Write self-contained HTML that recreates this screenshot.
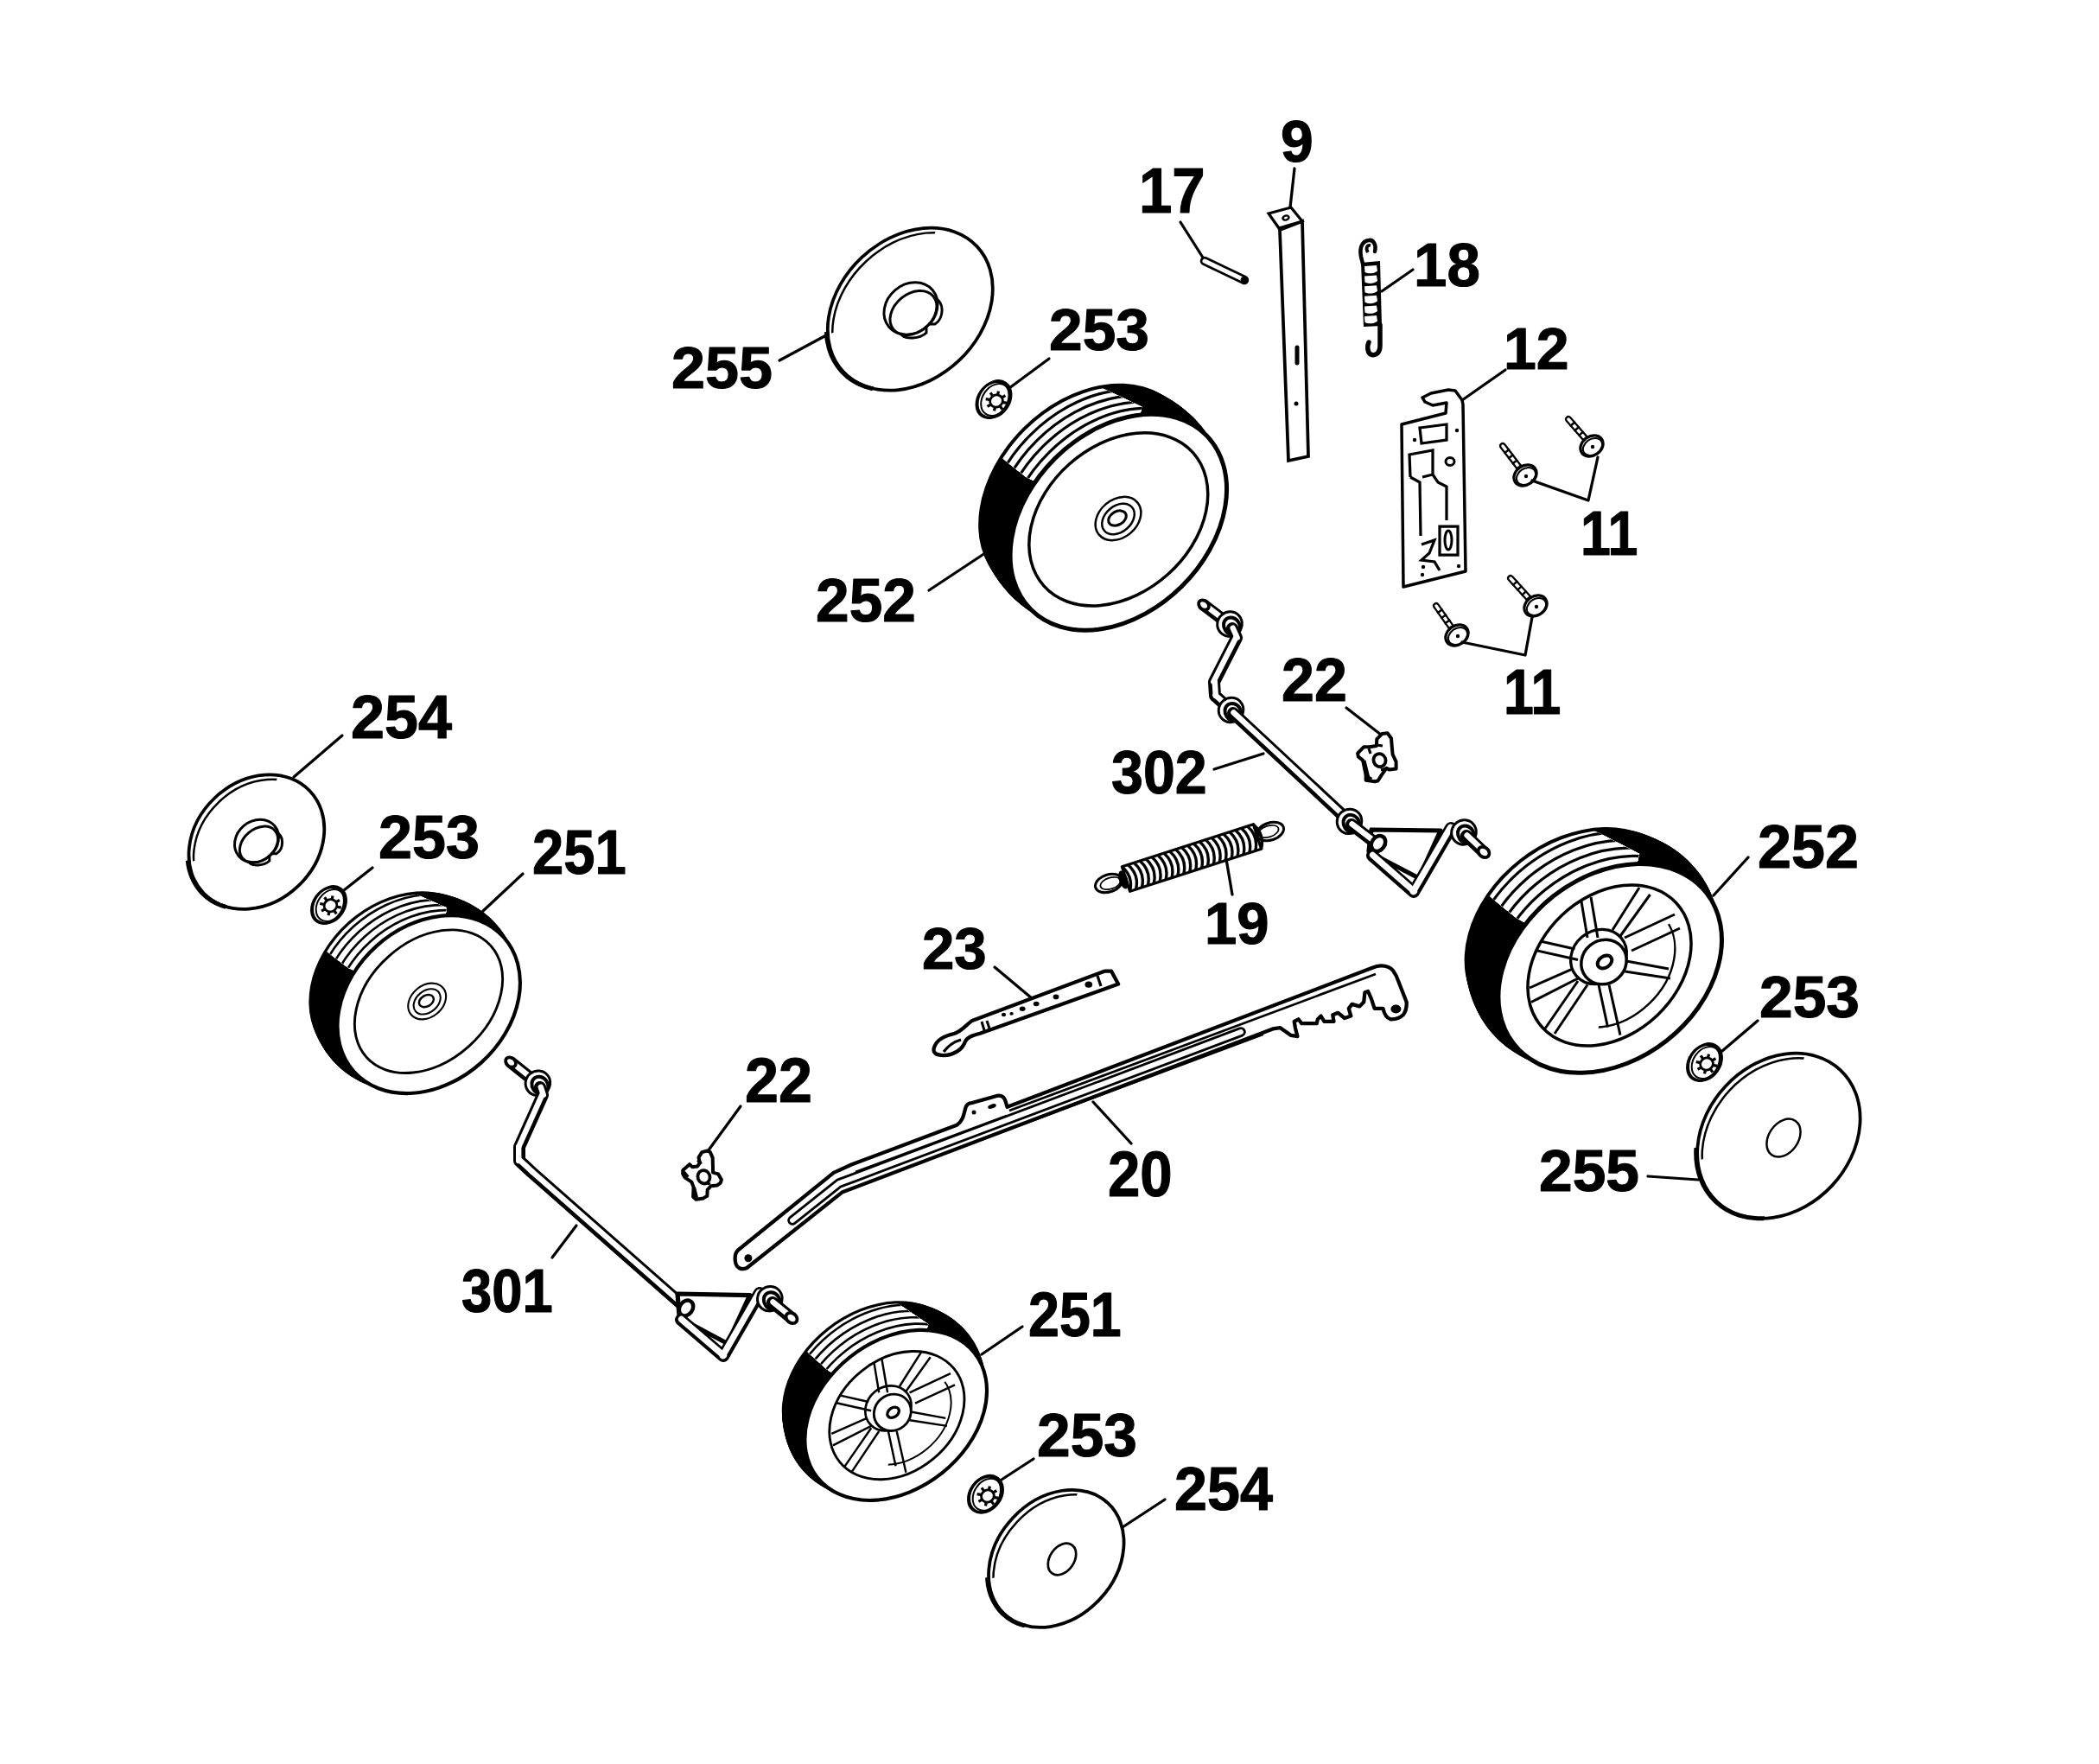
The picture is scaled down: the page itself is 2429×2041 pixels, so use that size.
<!DOCTYPE html><html><head><meta charset="utf-8"><style>html,body{margin:0;padding:0;background:#fff;overflow:hidden}svg{display:block}</style></head><body><svg width="2429" height="2041" viewBox="0 0 2429 2041"><rect width="100%" height="100%" fill="#fff"/><g>
<ellipse cx="1294.3" cy="604.3" rx="143.0" ry="104.2" transform="rotate(-44.8 1294.3 604.3)" fill="#000"/>
<ellipse cx="1292.0" cy="602.1" rx="143.9" ry="104.9" transform="rotate(-44.8 1292.0 602.1)" fill="#000"/>
<ellipse cx="1289.7" cy="599.8" rx="144.8" ry="105.5" transform="rotate(-44.8 1289.7 599.8)" fill="#000"/>
<ellipse cx="1287.4" cy="597.6" rx="145.5" ry="106.1" transform="rotate(-44.8 1287.4 597.6)" fill="#000"/>
<ellipse cx="1285.1" cy="595.4" rx="146.2" ry="106.6" transform="rotate(-44.8 1285.1 595.4)" fill="#000"/>
<ellipse cx="1282.8" cy="593.2" rx="146.8" ry="107.0" transform="rotate(-44.8 1282.8 593.2)" fill="#000"/>
<ellipse cx="1280.5" cy="590.9" rx="147.2" ry="107.3" transform="rotate(-44.8 1280.5 590.9)" fill="#000"/>
<ellipse cx="1278.2" cy="588.7" rx="147.5" ry="107.5" transform="rotate(-44.8 1278.2 588.7)" fill="#000"/>
<ellipse cx="1275.8" cy="586.5" rx="147.6" ry="107.5" transform="rotate(-44.8 1275.8 586.5)" fill="#000"/>
<ellipse cx="1273.5" cy="584.3" rx="147.5" ry="107.5" transform="rotate(-44.8 1273.5 584.3)" fill="#000"/>
<ellipse cx="1271.2" cy="582.0" rx="147.2" ry="107.3" transform="rotate(-44.8 1271.2 582.0)" fill="#000"/>
<ellipse cx="1268.9" cy="579.8" rx="146.8" ry="107.0" transform="rotate(-44.8 1268.9 579.8)" fill="#000"/>
<ellipse cx="1266.6" cy="577.6" rx="146.2" ry="106.6" transform="rotate(-44.8 1266.6 577.6)" fill="#000"/>
<ellipse cx="1264.3" cy="575.4" rx="145.5" ry="106.1" transform="rotate(-44.8 1264.3 575.4)" fill="#000"/>
<ellipse cx="1262.0" cy="573.1" rx="144.8" ry="105.5" transform="rotate(-44.8 1262.0 573.1)" fill="#000"/>
<ellipse cx="1259.7" cy="570.9" rx="143.9" ry="104.9" transform="rotate(-44.8 1259.7 570.9)" fill="#000"/>
<ellipse cx="1257.4" cy="568.7" rx="143.0" ry="104.2" transform="rotate(-44.8 1257.4 568.7)" fill="#000"/>
<clipPath id="gc1"><polygon points="1294.3,604.3 1187.6,552.0 1098.0,482.0 1072.9,390.7 1170.0,398.0 1321.2,470.8"/></clipPath>
<g clip-path="url(#gc1)">
<ellipse cx="1294.3" cy="604.3" rx="139.0" ry="100.2" transform="rotate(-44.8 1294.3 604.3)" fill="#fff"/>
<ellipse cx="1292.0" cy="602.1" rx="139.9" ry="100.9" transform="rotate(-44.8 1292.0 602.1)" fill="#fff"/>
<ellipse cx="1289.7" cy="599.8" rx="140.8" ry="101.5" transform="rotate(-44.8 1289.7 599.8)" fill="#fff"/>
<ellipse cx="1287.4" cy="597.6" rx="141.5" ry="102.1" transform="rotate(-44.8 1287.4 597.6)" fill="#fff"/>
<ellipse cx="1285.1" cy="595.4" rx="142.2" ry="102.6" transform="rotate(-44.8 1285.1 595.4)" fill="#fff"/>
<ellipse cx="1282.8" cy="593.2" rx="142.8" ry="103.0" transform="rotate(-44.8 1282.8 593.2)" fill="#fff"/>
<ellipse cx="1280.5" cy="590.9" rx="143.2" ry="103.3" transform="rotate(-44.8 1280.5 590.9)" fill="#fff"/>
<ellipse cx="1278.2" cy="588.7" rx="143.5" ry="103.5" transform="rotate(-44.8 1278.2 588.7)" fill="#fff"/>
<ellipse cx="1275.8" cy="586.5" rx="143.6" ry="103.5" transform="rotate(-44.8 1275.8 586.5)" fill="#fff"/>
<ellipse cx="1273.5" cy="584.3" rx="143.5" ry="103.5" transform="rotate(-44.8 1273.5 584.3)" fill="#fff"/>
<ellipse cx="1271.2" cy="582.0" rx="143.2" ry="103.3" transform="rotate(-44.8 1271.2 582.0)" fill="#fff"/>
<ellipse cx="1268.9" cy="579.8" rx="142.8" ry="103.0" transform="rotate(-44.8 1268.9 579.8)" fill="#fff"/>
<ellipse cx="1266.6" cy="577.6" rx="142.2" ry="102.6" transform="rotate(-44.8 1266.6 577.6)" fill="#fff"/>
<ellipse cx="1264.3" cy="575.4" rx="141.5" ry="102.1" transform="rotate(-44.8 1264.3 575.4)" fill="#fff"/>
<ellipse cx="1262.0" cy="573.1" rx="140.8" ry="101.5" transform="rotate(-44.8 1262.0 573.1)" fill="#fff"/>
<ellipse cx="1259.7" cy="570.9" rx="139.9" ry="100.9" transform="rotate(-44.8 1259.7 570.9)" fill="#fff"/>
<ellipse cx="1257.4" cy="568.7" rx="139.0" ry="100.2" transform="rotate(-44.8 1257.4 568.7)" fill="#fff"/>
<ellipse cx="1287.7" cy="597.9" rx="143.8" ry="104.8" transform="rotate(-44.8 1287.7 597.9)" fill="none" stroke-width="3.20" stroke="#000"/>
<ellipse cx="1281.0" cy="591.5" rx="144.6" ry="105.4" transform="rotate(-44.8 1281.0 591.5)" fill="none" stroke-width="3.20" stroke="#000"/>
<ellipse cx="1274.4" cy="585.1" rx="145.5" ry="106.0" transform="rotate(-44.8 1274.4 585.1)" fill="none" stroke-width="3.20" stroke="#000"/>
<ellipse cx="1267.7" cy="578.7" rx="146.3" ry="106.6" transform="rotate(-44.8 1267.7 578.7)" fill="none" stroke-width="3.20" stroke="#000"/>
</g>
<ellipse cx="1294.3" cy="604.3" rx="143.0" ry="104.2" transform="rotate(-44.8 1294.3 604.3)" fill="#fff" stroke="#000" stroke-width="5.00"/>
<ellipse cx="1294.3" cy="600.9" rx="115.7" ry="85.6" transform="rotate(-41.7 1294.3 600.9)" fill="none" stroke="#000" stroke-width="3.50"/>
<ellipse cx="1294.0" cy="600.0" rx="29.0" ry="22.0" transform="rotate(-40.0 1294.0 600.0)" fill="none" stroke="#000" stroke-width="2.50"/>
<ellipse cx="1294.0" cy="600.5" rx="21.0" ry="15.0" transform="rotate(-40.0 1294.0 600.5)" fill="none" stroke="#000" stroke-width="2.50"/>
<ellipse cx="1293.0" cy="599.5" rx="11.0" ry="7.7" transform="rotate(-30.0 1293.0 599.5)" fill="none" stroke="#000" stroke-width="3.00"/>
</g>
<g>
<ellipse cx="496.2" cy="1162.1" rx="116.4" ry="90.7" transform="rotate(-41.9 496.2 1162.1)" fill="#000"/>
<ellipse cx="494.1" cy="1160.4" rx="117.7" ry="91.7" transform="rotate(-41.9 494.1 1160.4)" fill="#000"/>
<ellipse cx="492.1" cy="1158.6" rx="118.9" ry="92.6" transform="rotate(-41.9 492.1 1158.6)" fill="#000"/>
<ellipse cx="490.0" cy="1156.9" rx="120.0" ry="93.5" transform="rotate(-41.9 490.0 1156.9)" fill="#000"/>
<ellipse cx="487.9" cy="1155.1" rx="121.0" ry="94.3" transform="rotate(-41.9 487.9 1155.1)" fill="#000"/>
<ellipse cx="485.9" cy="1153.4" rx="121.8" ry="94.9" transform="rotate(-41.9 485.9 1153.4)" fill="#000"/>
<ellipse cx="483.8" cy="1151.7" rx="122.4" ry="95.4" transform="rotate(-41.9 483.8 1151.7)" fill="#000"/>
<ellipse cx="481.7" cy="1149.9" rx="122.8" ry="95.7" transform="rotate(-41.9 481.7 1149.9)" fill="#000"/>
<ellipse cx="479.6" cy="1148.2" rx="122.9" ry="95.8" transform="rotate(-41.9 479.6 1148.2)" fill="#000"/>
<ellipse cx="477.6" cy="1146.5" rx="122.8" ry="95.7" transform="rotate(-41.9 477.6 1146.5)" fill="#000"/>
<ellipse cx="475.5" cy="1144.7" rx="122.4" ry="95.4" transform="rotate(-41.9 475.5 1144.7)" fill="#000"/>
<ellipse cx="473.4" cy="1143.0" rx="121.8" ry="94.9" transform="rotate(-41.9 473.4 1143.0)" fill="#000"/>
<ellipse cx="471.4" cy="1141.2" rx="121.0" ry="94.3" transform="rotate(-41.9 471.4 1141.2)" fill="#000"/>
<ellipse cx="469.3" cy="1139.5" rx="120.0" ry="93.5" transform="rotate(-41.9 469.3 1139.5)" fill="#000"/>
<ellipse cx="467.2" cy="1137.8" rx="118.9" ry="92.6" transform="rotate(-41.9 467.2 1137.8)" fill="#000"/>
<ellipse cx="465.2" cy="1136.0" rx="117.7" ry="91.7" transform="rotate(-41.9 465.2 1136.0)" fill="#000"/>
<ellipse cx="463.1" cy="1134.3" rx="116.4" ry="90.7" transform="rotate(-41.9 463.1 1134.3)" fill="#000"/>
<clipPath id="gc2"><polygon points="496.2,1162.1 403.4,1120.0 326.1,1062.0 297.6,995.3 390.4,994.7 517.0,1050.4"/></clipPath>
<g clip-path="url(#gc2)">
<ellipse cx="496.2" cy="1162.1" rx="113.1" ry="87.4" transform="rotate(-41.9 496.2 1162.1)" fill="#fff"/>
<ellipse cx="494.1" cy="1160.4" rx="114.4" ry="88.4" transform="rotate(-41.9 494.1 1160.4)" fill="#fff"/>
<ellipse cx="492.1" cy="1158.6" rx="115.6" ry="89.3" transform="rotate(-41.9 492.1 1158.6)" fill="#fff"/>
<ellipse cx="490.0" cy="1156.9" rx="116.7" ry="90.2" transform="rotate(-41.9 490.0 1156.9)" fill="#fff"/>
<ellipse cx="487.9" cy="1155.1" rx="117.7" ry="91.0" transform="rotate(-41.9 487.9 1155.1)" fill="#fff"/>
<ellipse cx="485.9" cy="1153.4" rx="118.5" ry="91.6" transform="rotate(-41.9 485.9 1153.4)" fill="#fff"/>
<ellipse cx="483.8" cy="1151.7" rx="119.1" ry="92.1" transform="rotate(-41.9 483.8 1151.7)" fill="#fff"/>
<ellipse cx="481.7" cy="1149.9" rx="119.5" ry="92.4" transform="rotate(-41.9 481.7 1149.9)" fill="#fff"/>
<ellipse cx="479.6" cy="1148.2" rx="119.6" ry="92.5" transform="rotate(-41.9 479.6 1148.2)" fill="#fff"/>
<ellipse cx="477.6" cy="1146.5" rx="119.5" ry="92.4" transform="rotate(-41.9 477.6 1146.5)" fill="#fff"/>
<ellipse cx="475.5" cy="1144.7" rx="119.1" ry="92.1" transform="rotate(-41.9 475.5 1144.7)" fill="#fff"/>
<ellipse cx="473.4" cy="1143.0" rx="118.5" ry="91.6" transform="rotate(-41.9 473.4 1143.0)" fill="#fff"/>
<ellipse cx="471.4" cy="1141.2" rx="117.7" ry="91.0" transform="rotate(-41.9 471.4 1141.2)" fill="#fff"/>
<ellipse cx="469.3" cy="1139.5" rx="116.7" ry="90.2" transform="rotate(-41.9 469.3 1139.5)" fill="#fff"/>
<ellipse cx="467.2" cy="1137.8" rx="115.6" ry="89.3" transform="rotate(-41.9 467.2 1137.8)" fill="#fff"/>
<ellipse cx="465.2" cy="1136.0" rx="114.4" ry="88.4" transform="rotate(-41.9 465.2 1136.0)" fill="#fff"/>
<ellipse cx="463.1" cy="1134.3" rx="113.1" ry="87.4" transform="rotate(-41.9 463.1 1134.3)" fill="#fff"/>
<ellipse cx="490.2" cy="1157.1" rx="117.6" ry="91.6" transform="rotate(-41.9 490.2 1157.1)" fill="none" stroke-width="2.66" stroke="#000"/>
<ellipse cx="484.3" cy="1152.1" rx="118.7" ry="92.5" transform="rotate(-41.9 484.3 1152.1)" fill="none" stroke-width="2.66" stroke="#000"/>
<ellipse cx="478.3" cy="1147.1" rx="119.9" ry="93.4" transform="rotate(-41.9 478.3 1147.1)" fill="none" stroke-width="2.66" stroke="#000"/>
<ellipse cx="472.4" cy="1142.1" rx="121.1" ry="94.4" transform="rotate(-41.9 472.4 1142.1)" fill="none" stroke-width="2.66" stroke="#000"/>
</g>
<ellipse cx="496.2" cy="1162.1" rx="116.4" ry="90.7" transform="rotate(-41.9 496.2 1162.1)" fill="#fff" stroke="#000" stroke-width="4.15"/>
<ellipse cx="496.0" cy="1158.7" rx="96.6" ry="69.7" transform="rotate(-41.9 496.0 1158.7)" fill="none" stroke="#000" stroke-width="2.90"/>
<ellipse cx="494.2" cy="1158.5" rx="24.1" ry="18.3" transform="rotate(-40.0 494.2 1158.5)" fill="none" stroke="#000" stroke-width="2.07"/>
<ellipse cx="494.2" cy="1158.9" rx="17.4" ry="12.4" transform="rotate(-40.0 494.2 1158.9)" fill="none" stroke="#000" stroke-width="2.07"/>
<ellipse cx="493.4" cy="1158.1" rx="9.1" ry="6.4" transform="rotate(-30.0 493.4 1158.1)" fill="none" stroke="#000" stroke-width="2.49"/>
</g>
<g>
<ellipse cx="1863.2" cy="1120.4" rx="141.6" ry="106.2" transform="rotate(-38.1 1863.2 1120.4)" fill="#000"/>
<ellipse cx="1860.7" cy="1117.8" rx="143.5" ry="107.7" transform="rotate(-38.1 1860.7 1117.8)" fill="#000"/>
<ellipse cx="1858.3" cy="1115.1" rx="145.4" ry="109.0" transform="rotate(-38.1 1858.3 1115.1)" fill="#000"/>
<ellipse cx="1855.8" cy="1112.5" rx="147.1" ry="110.3" transform="rotate(-38.1 1855.8 1112.5)" fill="#000"/>
<ellipse cx="1853.4" cy="1109.8" rx="148.6" ry="111.5" transform="rotate(-38.1 1853.4 1109.8)" fill="#000"/>
<ellipse cx="1850.9" cy="1107.2" rx="149.8" ry="112.4" transform="rotate(-38.1 1850.9 1107.2)" fill="#000"/>
<ellipse cx="1848.5" cy="1104.5" rx="150.8" ry="113.1" transform="rotate(-38.1 1848.5 1104.5)" fill="#000"/>
<ellipse cx="1846.0" cy="1101.9" rx="151.3" ry="113.5" transform="rotate(-38.1 1846.0 1101.9)" fill="#000"/>
<ellipse cx="1843.5" cy="1099.2" rx="151.5" ry="113.6" transform="rotate(-38.1 1843.5 1099.2)" fill="#000"/>
<ellipse cx="1841.1" cy="1096.6" rx="151.3" ry="113.5" transform="rotate(-38.1 1841.1 1096.6)" fill="#000"/>
<ellipse cx="1838.6" cy="1093.9" rx="150.8" ry="113.1" transform="rotate(-38.1 1838.6 1093.9)" fill="#000"/>
<ellipse cx="1836.2" cy="1091.2" rx="149.8" ry="112.4" transform="rotate(-38.1 1836.2 1091.2)" fill="#000"/>
<ellipse cx="1833.7" cy="1088.6" rx="148.6" ry="111.5" transform="rotate(-38.1 1833.7 1088.6)" fill="#000"/>
<ellipse cx="1831.3" cy="1086.0" rx="147.1" ry="110.3" transform="rotate(-38.1 1831.3 1086.0)" fill="#000"/>
<ellipse cx="1828.8" cy="1083.3" rx="145.4" ry="109.0" transform="rotate(-38.1 1828.8 1083.3)" fill="#000"/>
<ellipse cx="1826.4" cy="1080.7" rx="143.5" ry="107.7" transform="rotate(-38.1 1826.4 1080.7)" fill="#000"/>
<ellipse cx="1823.9" cy="1078.0" rx="141.6" ry="106.2" transform="rotate(-38.1 1823.9 1078.0)" fill="#000"/>
<clipPath id="gc3"><polygon points="1863.2,1120.4 1754.8,1062.0 1668.0,992.0 1627.4,866.0 1744.8,909.2 1897.1,987.9"/></clipPath>
<g clip-path="url(#gc3)">
<ellipse cx="1863.2" cy="1120.4" rx="137.6" ry="102.2" transform="rotate(-38.1 1863.2 1120.4)" fill="#fff"/>
<ellipse cx="1860.7" cy="1117.8" rx="139.5" ry="103.7" transform="rotate(-38.1 1860.7 1117.8)" fill="#fff"/>
<ellipse cx="1858.3" cy="1115.1" rx="141.4" ry="105.0" transform="rotate(-38.1 1858.3 1115.1)" fill="#fff"/>
<ellipse cx="1855.8" cy="1112.5" rx="143.1" ry="106.3" transform="rotate(-38.1 1855.8 1112.5)" fill="#fff"/>
<ellipse cx="1853.4" cy="1109.8" rx="144.6" ry="107.5" transform="rotate(-38.1 1853.4 1109.8)" fill="#fff"/>
<ellipse cx="1850.9" cy="1107.2" rx="145.8" ry="108.4" transform="rotate(-38.1 1850.9 1107.2)" fill="#fff"/>
<ellipse cx="1848.5" cy="1104.5" rx="146.8" ry="109.1" transform="rotate(-38.1 1848.5 1104.5)" fill="#fff"/>
<ellipse cx="1846.0" cy="1101.9" rx="147.3" ry="109.5" transform="rotate(-38.1 1846.0 1101.9)" fill="#fff"/>
<ellipse cx="1843.5" cy="1099.2" rx="147.5" ry="109.6" transform="rotate(-38.1 1843.5 1099.2)" fill="#fff"/>
<ellipse cx="1841.1" cy="1096.6" rx="147.3" ry="109.5" transform="rotate(-38.1 1841.1 1096.6)" fill="#fff"/>
<ellipse cx="1838.6" cy="1093.9" rx="146.8" ry="109.1" transform="rotate(-38.1 1838.6 1093.9)" fill="#fff"/>
<ellipse cx="1836.2" cy="1091.2" rx="145.8" ry="108.4" transform="rotate(-38.1 1836.2 1091.2)" fill="#fff"/>
<ellipse cx="1833.7" cy="1088.6" rx="144.6" ry="107.5" transform="rotate(-38.1 1833.7 1088.6)" fill="#fff"/>
<ellipse cx="1831.3" cy="1086.0" rx="143.1" ry="106.3" transform="rotate(-38.1 1831.3 1086.0)" fill="#fff"/>
<ellipse cx="1828.8" cy="1083.3" rx="141.4" ry="105.0" transform="rotate(-38.1 1828.8 1083.3)" fill="#fff"/>
<ellipse cx="1826.4" cy="1080.7" rx="139.5" ry="103.7" transform="rotate(-38.1 1826.4 1080.7)" fill="#fff"/>
<ellipse cx="1823.9" cy="1078.0" rx="137.6" ry="102.2" transform="rotate(-38.1 1823.9 1078.0)" fill="#fff"/>
<ellipse cx="1856.1" cy="1112.8" rx="143.4" ry="107.5" transform="rotate(-38.1 1856.1 1112.8)" fill="none" stroke-width="3.20" stroke="#000"/>
<ellipse cx="1849.1" cy="1105.1" rx="145.2" ry="108.9" transform="rotate(-38.1 1849.1 1105.1)" fill="none" stroke-width="3.20" stroke="#000"/>
<ellipse cx="1842.0" cy="1097.5" rx="147.0" ry="110.2" transform="rotate(-38.1 1842.0 1097.5)" fill="none" stroke-width="3.20" stroke="#000"/>
<ellipse cx="1834.9" cy="1089.9" rx="148.7" ry="111.6" transform="rotate(-38.1 1834.9 1089.9)" fill="none" stroke-width="3.20" stroke="#000"/>
</g>
<ellipse cx="1863.2" cy="1120.4" rx="141.6" ry="106.2" transform="rotate(-38.1 1863.2 1120.4)" fill="#fff" stroke="#000" stroke-width="5.00"/>
<ellipse cx="1862.5" cy="1117.0" rx="105.8" ry="80.0" transform="rotate(-43.3 1862.5 1117.0)" fill="none" stroke="#000" stroke-width="3.50"/>
<clipPath id="dish3"><polygon points="1862.5,1117.0 2190.2,887.6 2228.6,955.9 2253.0,1030.4 2262.4,1108.3 2256.4,1186.5 2235.3,1262.0 2199.9,1331.9 2151.4,1393.6 2091.9,1444.7 2023.6,1483.1 1949.1,1507.5 1871.2,1516.9 1793.0,1510.9"/></clipPath>
<g clip-path="url(#dish3)"><ellipse cx="1865.5" cy="1117.0" rx="81.5" ry="61.6" transform="rotate(-43.3 1865.5 1117.0)" fill="none" stroke-width="2.40" stroke="#000"/></g>
<path d="M1830.0,1043.0L1837.0,1085.0M1841.0,1038.0L1849.0,1085.0M1897.0,1027.0L1866.0,1076.0M1909.5,1035.0L1875.0,1083.0M1938.0,1058.0L1880.0,1085.0M1944.0,1074.0L1888.0,1100.0M1882.0,1112.0L1931.0,1121.0M1880.5,1124.0L1933.0,1132.0M1850.0,1139.5L1860.5,1188.5M1862.0,1139.5L1875.0,1197.6M1826.0,1135.0L1788.0,1190.0M1837.0,1139.5L1799.0,1196.0M1819.0,1121.4L1770.0,1143.0M1826.0,1132.0L1772.0,1159.5M1822.4,1098.0L1782.5,1089.0M1826.0,1110.5L1777.0,1099.6" fill="none" stroke-width="3.00" stroke="#000"/>
<ellipse cx="1850.0" cy="1107.0" rx="34.0" ry="30.0" transform="rotate(-40.0 1850.0 1107.0)" fill="none" stroke="#000" stroke-width="3.25"/>
<ellipse cx="1856.0" cy="1113.0" rx="27.0" ry="25.0" transform="rotate(-40.0 1856.0 1113.0)" fill="#fff" stroke="#000" stroke-width="3.50"/>
<ellipse cx="1857.0" cy="1113.0" rx="9.0" ry="6.5" transform="rotate(-35.0 1857.0 1113.0)" fill="none" stroke="#000" stroke-width="4.00"/>
</g>
<g>
<ellipse cx="1036.7" cy="1637.4" rx="116.0" ry="85.7" transform="rotate(-38.5 1036.7 1637.4)" fill="#000"/>
<ellipse cx="1035.0" cy="1635.3" rx="117.6" ry="86.9" transform="rotate(-38.5 1035.0 1635.3)" fill="#000"/>
<ellipse cx="1033.4" cy="1633.2" rx="119.2" ry="88.0" transform="rotate(-38.5 1033.4 1633.2)" fill="#000"/>
<ellipse cx="1031.7" cy="1631.1" rx="120.6" ry="89.1" transform="rotate(-38.5 1031.7 1631.1)" fill="#000"/>
<ellipse cx="1030.0" cy="1629.0" rx="121.8" ry="90.0" transform="rotate(-38.5 1030.0 1629.0)" fill="#000"/>
<ellipse cx="1028.4" cy="1626.9" rx="122.8" ry="90.8" transform="rotate(-38.5 1028.4 1626.9)" fill="#000"/>
<ellipse cx="1026.7" cy="1624.8" rx="123.6" ry="91.3" transform="rotate(-38.5 1026.7 1624.8)" fill="#000"/>
<ellipse cx="1025.1" cy="1622.7" rx="124.1" ry="91.7" transform="rotate(-38.5 1025.1 1622.7)" fill="#000"/>
<ellipse cx="1023.4" cy="1620.6" rx="124.2" ry="91.8" transform="rotate(-38.5 1023.4 1620.6)" fill="#000"/>
<ellipse cx="1021.7" cy="1618.5" rx="124.1" ry="91.7" transform="rotate(-38.5 1021.7 1618.5)" fill="#000"/>
<ellipse cx="1020.1" cy="1616.4" rx="123.6" ry="91.3" transform="rotate(-38.5 1020.1 1616.4)" fill="#000"/>
<ellipse cx="1018.4" cy="1614.3" rx="122.8" ry="90.8" transform="rotate(-38.5 1018.4 1614.3)" fill="#000"/>
<ellipse cx="1016.8" cy="1612.2" rx="121.8" ry="90.0" transform="rotate(-38.5 1016.8 1612.2)" fill="#000"/>
<ellipse cx="1015.1" cy="1610.1" rx="120.6" ry="89.1" transform="rotate(-38.5 1015.1 1610.1)" fill="#000"/>
<ellipse cx="1013.4" cy="1608.0" rx="119.2" ry="88.0" transform="rotate(-38.5 1013.4 1608.0)" fill="#000"/>
<ellipse cx="1011.8" cy="1605.9" rx="117.6" ry="86.9" transform="rotate(-38.5 1011.8 1605.9)" fill="#000"/>
<ellipse cx="1010.1" cy="1603.8" rx="116.0" ry="85.7" transform="rotate(-38.5 1010.1 1603.8)" fill="#000"/>
<clipPath id="gc4"><polygon points="1036.7,1637.4 957.8,1584.9 887.5,1523.0 877.1,1435.8 962.8,1456.1 1074.2,1532.3"/></clipPath>
<g clip-path="url(#gc4)">
<ellipse cx="1036.7" cy="1637.4" rx="112.7" ry="82.4" transform="rotate(-38.5 1036.7 1637.4)" fill="#fff"/>
<ellipse cx="1035.0" cy="1635.3" rx="114.3" ry="83.6" transform="rotate(-38.5 1035.0 1635.3)" fill="#fff"/>
<ellipse cx="1033.4" cy="1633.2" rx="115.9" ry="84.7" transform="rotate(-38.5 1033.4 1633.2)" fill="#fff"/>
<ellipse cx="1031.7" cy="1631.1" rx="117.3" ry="85.8" transform="rotate(-38.5 1031.7 1631.1)" fill="#fff"/>
<ellipse cx="1030.0" cy="1629.0" rx="118.5" ry="86.7" transform="rotate(-38.5 1030.0 1629.0)" fill="#fff"/>
<ellipse cx="1028.4" cy="1626.9" rx="119.6" ry="87.5" transform="rotate(-38.5 1028.4 1626.9)" fill="#fff"/>
<ellipse cx="1026.7" cy="1624.8" rx="120.3" ry="88.0" transform="rotate(-38.5 1026.7 1624.8)" fill="#fff"/>
<ellipse cx="1025.1" cy="1622.7" rx="120.8" ry="88.4" transform="rotate(-38.5 1025.1 1622.7)" fill="#fff"/>
<ellipse cx="1023.4" cy="1620.6" rx="121.0" ry="88.5" transform="rotate(-38.5 1023.4 1620.6)" fill="#fff"/>
<ellipse cx="1021.7" cy="1618.5" rx="120.8" ry="88.4" transform="rotate(-38.5 1021.7 1618.5)" fill="#fff"/>
<ellipse cx="1020.1" cy="1616.4" rx="120.3" ry="88.0" transform="rotate(-38.5 1020.1 1616.4)" fill="#fff"/>
<ellipse cx="1018.4" cy="1614.3" rx="119.6" ry="87.5" transform="rotate(-38.5 1018.4 1614.3)" fill="#fff"/>
<ellipse cx="1016.8" cy="1612.2" rx="118.5" ry="86.7" transform="rotate(-38.5 1016.8 1612.2)" fill="#fff"/>
<ellipse cx="1015.1" cy="1610.1" rx="117.3" ry="85.8" transform="rotate(-38.5 1015.1 1610.1)" fill="#fff"/>
<ellipse cx="1013.4" cy="1608.0" rx="115.9" ry="84.7" transform="rotate(-38.5 1013.4 1608.0)" fill="#fff"/>
<ellipse cx="1011.8" cy="1605.9" rx="114.3" ry="83.6" transform="rotate(-38.5 1011.8 1605.9)" fill="#fff"/>
<ellipse cx="1010.1" cy="1603.8" rx="112.7" ry="82.4" transform="rotate(-38.5 1010.1 1603.8)" fill="#fff"/>
<ellipse cx="1031.9" cy="1631.4" rx="117.5" ry="86.8" transform="rotate(-38.5 1031.9 1631.4)" fill="none" stroke-width="2.62" stroke="#000"/>
<ellipse cx="1027.1" cy="1625.3" rx="119.0" ry="87.9" transform="rotate(-38.5 1027.1 1625.3)" fill="none" stroke-width="2.62" stroke="#000"/>
<ellipse cx="1022.3" cy="1619.3" rx="120.4" ry="89.0" transform="rotate(-38.5 1022.3 1619.3)" fill="none" stroke-width="2.62" stroke="#000"/>
<ellipse cx="1017.5" cy="1613.2" rx="121.9" ry="90.1" transform="rotate(-38.5 1017.5 1613.2)" fill="none" stroke-width="2.62" stroke="#000"/>
</g>
<ellipse cx="1036.7" cy="1637.4" rx="116.0" ry="85.7" transform="rotate(-38.5 1036.7 1637.4)" fill="#fff" stroke="#000" stroke-width="4.10"/>
<ellipse cx="1037.9" cy="1637.6" rx="85.4" ry="65.6" transform="rotate(-39.2 1037.9 1637.6)" fill="none" stroke="#000" stroke-width="2.88"/>
<clipPath id="dish4"><polygon points="1037.9,1637.6 1365.6,1408.2 1404.0,1476.5 1428.4,1551.0 1437.8,1628.9 1431.8,1707.1 1410.7,1782.6 1375.3,1852.5 1326.8,1914.2 1267.3,1965.3 1199.0,2003.7 1124.5,2028.1 1046.6,2037.5 968.4,2031.5"/></clipPath>
<g clip-path="url(#dish4)"><ellipse cx="1040.4" cy="1637.6" rx="65.8" ry="50.5" transform="rotate(-39.2 1040.4 1637.6)" fill="none" stroke-width="1.97" stroke="#000"/></g>
<path d="M1011.5,1576.9L1017.2,1611.3M1020.5,1572.8L1027.1,1611.3M1066.4,1563.8L1041.0,1604.0M1076.7,1570.3L1048.4,1609.7M1100.0,1589.2L1052.5,1611.3M1105.0,1602.3L1059.0,1623.6M1054.1,1633.5L1094.3,1640.9M1052.9,1643.3L1095.9,1649.9M1027.9,1656.0L1036.5,1696.2M1037.7,1656.0L1048.4,1703.7M1008.2,1652.3L977.0,1697.4M1017.2,1656.0L986.1,1702.4M1002.5,1641.2L962.3,1658.9M1008.2,1649.9L963.9,1672.4M1005.2,1622.0L972.5,1614.6M1008.2,1632.2L968.0,1623.3" fill="none" stroke-width="2.46" stroke="#000"/>
<ellipse cx="1027.9" cy="1629.4" rx="27.9" ry="24.6" transform="rotate(-40.0 1027.9 1629.4)" fill="none" stroke="#000" stroke-width="2.66"/>
<ellipse cx="1032.8" cy="1634.3" rx="22.1" ry="20.5" transform="rotate(-40.0 1032.8 1634.3)" fill="#fff" stroke="#000" stroke-width="2.88"/>
<ellipse cx="1033.6" cy="1634.3" rx="7.4" ry="5.3" transform="rotate(-35.0 1033.6 1634.3)" fill="none" stroke="#000" stroke-width="3.28"/>
</g>
<g>
<ellipse cx="1053.3" cy="357.7" rx="106.0" ry="82.0" transform="rotate(-43.2 1053.3 357.7)" fill="#fff" stroke="#000" stroke-width="3.75"/>
<clipPath id="dc1"><polygon points="1053.3,357.7 884.3,720.2 858.4,707.0 833.5,691.9 809.8,675.0 787.4,656.5 766.4,636.4 746.9,614.8 729.0,591.9 712.9,567.7 698.5,542.4 686.0,516.1 675.5,489.0 666.9,461.2"/></clipPath>
<g clip-path="url(#dc1)"><ellipse cx="1051.8" cy="357.7" rx="106.0" ry="82.0" transform="rotate(-43.2 1051.8 357.7)" fill="none" stroke="#000" stroke-width="5.00"/></g>
<clipPath id="dd1"><polygon points="1053.3,357.7 670.8,474.6 655.9,403.6 654.2,331.0 665.6,259.2 689.8,190.8 726.0,127.8 772.9,72.4 829.1,26.4 892.7,-8.7 961.6,-31.7 1033.5,-41.8 1106.1,-38.8 1176.9,-22.7"/></clipPath>
<g clip-path="url(#dd1)"><ellipse cx="1056.3" cy="360.7" rx="103.5" ry="79.5" transform="rotate(-43.2 1056.3 360.7)" fill="none" stroke="#000" stroke-width="2.50"/></g>
<ellipse cx="1054.0" cy="357.0" rx="33.0" ry="28.0" transform="rotate(-40.0 1054.0 357.0)" fill="none" stroke="#000" stroke-width="3.00"/>
<ellipse cx="1057.0" cy="362.0" rx="30.0" ry="22.0" transform="rotate(-40.0 1057.0 362.0)" fill="none" stroke="#000" stroke-width="3.00"/>
<path d="M1081.0,345.0 C1094.0,349.0 1092.0,369.0 1082.0,375.0 L1074.0,375.0" fill="none" stroke="#000" stroke-width="3.00"/>
<path d="M1042.0,385.0 C1046.0,395.0 1066.0,391.0 1072.0,385.0 L1072.0,377.0" fill="none" stroke="#000" stroke-width="3.00"/>
</g>
<g>
<ellipse cx="296.9" cy="974.1" rx="85.3" ry="70.2" transform="rotate(-43.9 296.9 974.1)" fill="#fff" stroke="#000" stroke-width="3.75"/>
<clipPath id="dc2"><polygon points="296.9,974.1 127.9,1336.6 102.0,1323.4 77.1,1308.3 53.4,1291.4 31.0,1272.9 10.0,1252.8 -9.5,1231.2 -27.4,1208.3 -43.5,1184.1 -57.9,1158.8 -70.4,1132.5 -80.9,1105.4 -89.5,1077.6"/></clipPath>
<g clip-path="url(#dc2)"><ellipse cx="295.4" cy="974.1" rx="85.3" ry="70.2" transform="rotate(-43.9 295.4 974.1)" fill="none" stroke="#000" stroke-width="5.00"/></g>
<clipPath id="dd2"><polygon points="296.9,974.1 -85.6,1091.0 -100.5,1020.0 -102.2,947.4 -90.8,875.6 -66.6,807.2 -30.4,744.2 16.5,688.8 72.7,642.8 136.3,607.7 205.2,584.7 277.1,574.6 349.7,577.6 420.5,593.7"/></clipPath>
<g clip-path="url(#dd2)"><ellipse cx="299.9" cy="977.1" rx="82.8" ry="67.7" transform="rotate(-43.9 299.9 977.1)" fill="none" stroke="#000" stroke-width="2.50"/></g>
<ellipse cx="297.0" cy="973.0" rx="27.1" ry="23.0" transform="rotate(-40.0 297.0 973.0)" fill="none" stroke="#000" stroke-width="3.00"/>
<ellipse cx="299.5" cy="977.1" rx="24.6" ry="18.0" transform="rotate(-40.0 299.5 977.1)" fill="none" stroke="#000" stroke-width="3.00"/>
<path d="M319.1,963.2 C329.8,966.4 328.2,982.8 320.0,987.8 L313.4,987.8" fill="none" stroke="#000" stroke-width="3.00"/>
<path d="M287.2,996.0 C290.4,1004.2 306.8,1000.9 311.8,996.0 L311.8,989.4" fill="none" stroke="#000" stroke-width="3.00"/>
</g>
<g>
<ellipse cx="2058.4" cy="1314.3" rx="104.4" ry="84.3" transform="rotate(-46.9 2058.4 1314.3)" fill="#fff" stroke="#000" stroke-width="3.75"/>
<clipPath id="dc3"><polygon points="2058.4,1314.3 1988.9,1708.2 1948.1,1698.8 1908.6,1685.2 1870.6,1667.5 1834.7,1645.9 1801.3,1620.7 1770.7,1592.2 1743.2,1560.6 1719.2,1526.3 1698.9,1489.6 1682.5,1451.1 1670.3,1411.1 1662.3,1370.0"/></clipPath>
<g clip-path="url(#dc3)"><ellipse cx="2056.9" cy="1314.3" rx="104.4" ry="84.3" transform="rotate(-46.9 2056.9 1314.3)" fill="none" stroke="#000" stroke-width="5.00"/></g>
<clipPath id="dd3"><polygon points="2058.4,1314.3 1675.9,1431.2 1661.0,1360.2 1659.3,1287.6 1670.7,1215.8 1694.9,1147.4 1731.1,1084.4 1778.0,1029.0 1834.2,983.0 1897.8,947.9 1966.7,924.9 2038.6,914.8 2111.2,917.8 2182.0,933.9"/></clipPath>
<g clip-path="url(#dd3)"><ellipse cx="2061.4" cy="1317.3" rx="101.9" ry="81.8" transform="rotate(-46.9 2061.4 1317.3)" fill="none" stroke="#000" stroke-width="2.50"/></g>
<ellipse cx="2064.0" cy="1316.6" rx="24.0" ry="17.0" transform="rotate(-55.0 2064.0 1316.6)" fill="none" stroke="#000" stroke-width="2.50"/>
</g>
<g>
<ellipse cx="1222.3" cy="1803.4" rx="87.8" ry="68.9" transform="rotate(-47.0 1222.3 1803.4)" fill="#fff" stroke="#000" stroke-width="3.75"/>
<clipPath id="dc4"><polygon points="1222.3,1803.4 1053.3,2165.9 1027.4,2152.7 1002.5,2137.6 978.8,2120.7 956.4,2102.2 935.4,2082.1 915.9,2060.5 898.0,2037.6 881.9,2013.4 867.5,1988.1 855.0,1961.8 844.5,1934.7 835.9,1906.9"/></clipPath>
<g clip-path="url(#dc4)"><ellipse cx="1220.8" cy="1803.4" rx="87.8" ry="68.9" transform="rotate(-47.0 1220.8 1803.4)" fill="none" stroke="#000" stroke-width="5.00"/></g>
<clipPath id="dd4"><polygon points="1222.3,1803.4 839.8,1920.3 824.9,1849.3 823.2,1776.7 834.6,1704.9 858.8,1636.5 895.0,1573.5 941.9,1518.1 998.1,1472.1 1061.7,1437.0 1130.6,1414.0 1202.5,1403.9 1275.1,1406.9 1345.9,1423.0"/></clipPath>
<g clip-path="url(#dd4)"><ellipse cx="1225.3" cy="1806.4" rx="85.3" ry="66.4" transform="rotate(-47.0 1225.3 1806.4)" fill="none" stroke="#000" stroke-width="2.50"/></g>
<ellipse cx="1229.0" cy="1804.0" rx="20.0" ry="14.0" transform="rotate(-55.0 1229.0 1804.0)" fill="none" stroke="#000" stroke-width="2.75"/>
</g>
<g>
<ellipse cx="1150.5" cy="462.0" rx="23.0" ry="17.5" transform="rotate(-55.0 1150.5 462.0)" fill="#fff" stroke="#000" stroke-width="3.00"/>
<ellipse cx="1149.0" cy="462.5" rx="22.5" ry="17.0" transform="rotate(-55.0 1149.0 462.5)" fill="none" stroke="#000" stroke-width="3.00"/>
<ellipse cx="1152.0" cy="462.5" rx="20.0" ry="15.0" transform="rotate(-55.0 1152.0 462.5)" fill="none" stroke="#000" stroke-width="2.00"/>
<ellipse cx="1153.0" cy="464.0" rx="7.5" ry="7.0" transform="rotate(-30.0 1153.0 464.0)" fill="none" stroke="#000" stroke-width="2.75"/>
<path d="M1159.9,465.3L1165.3,466.3M1156.9,469.4L1159.9,473.6M1151.6,470.4L1150.5,475.3M1147.2,467.6L1142.6,470.4M1146.1,462.7L1140.7,461.7M1149.1,458.6L1146.1,454.4M1154.4,457.6L1155.5,452.7M1158.8,460.4L1163.4,457.6" stroke="#000" stroke-width="3.25" stroke-linecap="butt"/>
</g>
<g>
<ellipse cx="381.0" cy="1047.0" rx="23.0" ry="17.5" transform="rotate(-55.0 381.0 1047.0)" fill="#fff" stroke="#000" stroke-width="3.00"/>
<ellipse cx="379.5" cy="1047.5" rx="22.5" ry="17.0" transform="rotate(-55.0 379.5 1047.5)" fill="none" stroke="#000" stroke-width="3.00"/>
<ellipse cx="382.5" cy="1047.5" rx="20.0" ry="15.0" transform="rotate(-55.0 382.5 1047.5)" fill="none" stroke="#000" stroke-width="2.00"/>
<ellipse cx="382.5" cy="1047.8" rx="7.5" ry="7.0" transform="rotate(-30.0 382.5 1047.8)" fill="none" stroke="#000" stroke-width="2.75"/>
<path d="M389.4,1049.1L394.8,1050.1M386.4,1053.2L389.4,1057.4M381.1,1054.2L380.0,1059.1M376.7,1051.4L372.1,1054.2M375.6,1046.5L370.2,1045.5M378.6,1042.4L375.6,1038.2M383.9,1041.4L385.0,1036.5M388.3,1044.2L392.9,1041.4" stroke="#000" stroke-width="3.25" stroke-linecap="butt"/>
</g>
<g>
<ellipse cx="1973.0" cy="1229.0" rx="23.0" ry="17.5" transform="rotate(-55.0 1973.0 1229.0)" fill="#fff" stroke="#000" stroke-width="3.00"/>
<ellipse cx="1971.5" cy="1229.5" rx="22.5" ry="17.0" transform="rotate(-55.0 1971.5 1229.5)" fill="none" stroke="#000" stroke-width="3.00"/>
<ellipse cx="1974.5" cy="1229.5" rx="20.0" ry="15.0" transform="rotate(-55.0 1974.5 1229.5)" fill="none" stroke="#000" stroke-width="2.00"/>
<ellipse cx="1975.0" cy="1231.0" rx="7.5" ry="7.0" transform="rotate(-30.0 1975.0 1231.0)" fill="none" stroke="#000" stroke-width="2.75"/>
<path d="M1981.9,1232.3L1987.3,1233.3M1978.9,1236.4L1981.9,1240.6M1973.6,1237.4L1972.5,1242.3M1969.2,1234.6L1964.6,1237.4M1968.1,1229.7L1962.7,1228.7M1971.1,1225.6L1968.1,1221.4M1976.4,1224.6L1977.5,1219.7M1980.8,1227.4L1985.4,1224.6" stroke="#000" stroke-width="3.25" stroke-linecap="butt"/>
</g>
<g>
<ellipse cx="1141.0" cy="1728.7" rx="23.0" ry="17.5" transform="rotate(-55.0 1141.0 1728.7)" fill="#fff" stroke="#000" stroke-width="3.00"/>
<ellipse cx="1139.5" cy="1729.2" rx="22.5" ry="17.0" transform="rotate(-55.0 1139.5 1729.2)" fill="none" stroke="#000" stroke-width="3.00"/>
<ellipse cx="1142.5" cy="1729.2" rx="20.0" ry="15.0" transform="rotate(-55.0 1142.5 1729.2)" fill="none" stroke="#000" stroke-width="2.00"/>
<ellipse cx="1142.9" cy="1731.0" rx="7.5" ry="7.0" transform="rotate(-30.0 1142.9 1731.0)" fill="none" stroke="#000" stroke-width="2.75"/>
<path d="M1149.8,1732.3L1155.2,1733.3M1146.8,1736.4L1149.8,1740.6M1141.5,1737.4L1140.4,1742.3M1137.1,1734.6L1132.5,1737.4M1136.0,1729.7L1130.6,1728.7M1139.0,1725.6L1136.0,1721.4M1144.3,1724.6L1145.4,1719.7M1148.7,1727.4L1153.3,1724.6" stroke="#000" stroke-width="3.25" stroke-linecap="butt"/>
</g>
<polyline points="1393.0,700.0 1422.0,722.0" fill="none" stroke="#000" stroke-width="14.00" stroke-linecap="round" stroke-linejoin="round"/>
<line x1="1393.5" y1="699.4" x2="1422.5" y2="721.4" stroke="#fff" stroke-width="6.4" stroke-linecap="round"/>
<ellipse cx="1393.0" cy="700.0" rx="5.0" ry="6.5" transform="rotate(-50.0 1393.0 700.0)" fill="#fff" stroke="#000" stroke-width="3.75"/>
<ellipse cx="1423.0" cy="722.0" rx="14.5" ry="14.0" transform="rotate(-40.0 1423.0 722.0)" fill="#fff" stroke="#000" stroke-width="3.00"/><ellipse cx="1425.5" cy="724.5" rx="9.0" ry="10.5" transform="rotate(-35.0 1425.5 724.5)" fill="#fff" stroke="#000" stroke-width="4.00"/>
<polyline points="1426.0,727.0 1431.0,738.0 1405.0,789.0 1406.0,805.0 1424.0,821.0" fill="none" stroke="#000" stroke-width="14.00" stroke-linecap="round" stroke-linejoin="round"/>
<line x1="1426.7" y1="726.7" x2="1431.7" y2="737.7" stroke="#fff" stroke-width="6.4" stroke-linecap="round"/>
<line x1="1430.3" y1="737.6" x2="1404.3" y2="788.6" stroke="#fff" stroke-width="6.4" stroke-linecap="round"/>
<line x1="1405.8" y1="789.0" x2="1406.8" y2="805.0" stroke="#fff" stroke-width="6.4" stroke-linecap="round"/>
<line x1="1406.5" y1="804.4" x2="1424.5" y2="820.4" stroke="#fff" stroke-width="6.4" stroke-linecap="round"/>
<ellipse cx="1424.5" cy="821.5" rx="14.5" ry="14.0" transform="rotate(-40.0 1424.5 821.5)" fill="#fff" stroke="#000" stroke-width="3.00"/><ellipse cx="1427.0" cy="824.0" rx="9.0" ry="10.5" transform="rotate(-35.0 1427.0 824.0)" fill="#fff" stroke="#000" stroke-width="4.00"/>
<polyline points="1427.0,825.0 1561.5,950.4" fill="none" stroke="#000" stroke-width="14.00" stroke-linecap="round" stroke-linejoin="round"/>
<line x1="1427.5" y1="824.4" x2="1562.0" y2="949.8" stroke="#fff" stroke-width="6.4" stroke-linecap="round"/>
<ellipse cx="1561.5" cy="950.4" rx="14.5" ry="14.0" transform="rotate(-40.0 1561.5 950.4)" fill="#fff" stroke="#000" stroke-width="3.00"/><ellipse cx="1564.0" cy="952.9" rx="9.0" ry="10.5" transform="rotate(-35.0 1564.0 952.9)" fill="#fff" stroke="#000" stroke-width="4.00"/>
<polygon points="1587.0,960.0 1667.0,961.0 1642.0,1016.0 1596.0,992.0 1584.0,985.0" fill="#fff" stroke="#000" stroke-width="5.25" stroke-linejoin="round"/>
<polyline points="1564.0,954.0 1594.0,977.0" fill="none" stroke="#000" stroke-width="14.00" stroke-linecap="round" stroke-linejoin="round"/>
<line x1="1564.5" y1="953.4" x2="1594.5" y2="976.4" stroke="#fff" stroke-width="6.4" stroke-linecap="round"/>
<ellipse cx="1595.0" cy="976.0" rx="9.5" ry="7.5" transform="rotate(-55.0 1595.0 976.0)" fill="#fff" stroke="#000" stroke-width="4.50"/>
<polyline points="1588.0,990.0 1636.0,1032.0 1679.0,958.0 1692.0,963.0" fill="none" stroke="#000" stroke-width="14.00" stroke-linecap="round" stroke-linejoin="round"/>
<line x1="1588.5" y1="989.4" x2="1636.5" y2="1031.4" stroke="#fff" stroke-width="7.2" stroke-linecap="round"/>
<line x1="1635.3" y1="1031.6" x2="1678.3" y2="957.6" stroke="#fff" stroke-width="7.2" stroke-linecap="round"/>
<line x1="1679.3" y1="957.3" x2="1692.3" y2="962.3" stroke="#fff" stroke-width="7.2" stroke-linecap="round"/>
<ellipse cx="1694.0" cy="963.0" rx="14.5" ry="14.0" transform="rotate(-40.0 1694.0 963.0)" fill="#fff" stroke="#000" stroke-width="3.00"/><ellipse cx="1696.5" cy="965.5" rx="9.0" ry="10.5" transform="rotate(-35.0 1696.5 965.5)" fill="#fff" stroke="#000" stroke-width="4.00"/>
<polyline points="1697.0,967.0 1717.0,986.0" fill="none" stroke="#000" stroke-width="14.00" stroke-linecap="round" stroke-linejoin="round"/>
<line x1="1697.6" y1="966.4" x2="1717.6" y2="985.4" stroke="#fff" stroke-width="6.4" stroke-linecap="round"/>
<ellipse cx="1717.0" cy="986.0" rx="5.5" ry="7.0" transform="rotate(-50.0 1717.0 986.0)" fill="#fff" stroke="#000" stroke-width="3.75"/>
<polyline points="591.0,1229.0 621.0,1253.0" fill="none" stroke="#000" stroke-width="14.00" stroke-linecap="round" stroke-linejoin="round"/>
<line x1="591.5" y1="1228.4" x2="621.5" y2="1252.4" stroke="#fff" stroke-width="6.4" stroke-linecap="round"/>
<ellipse cx="591.0" cy="1229.0" rx="5.0" ry="6.5" transform="rotate(-50.0 591.0 1229.0)" fill="#fff" stroke="#000" stroke-width="3.75"/>
<ellipse cx="622.4" cy="1253.2" rx="14.5" ry="14.0" transform="rotate(-40.0 622.4 1253.2)" fill="#fff" stroke="#000" stroke-width="3.00"/><ellipse cx="624.9" cy="1255.7" rx="9.0" ry="10.5" transform="rotate(-35.0 624.9 1255.7)" fill="#fff" stroke="#000" stroke-width="4.00"/>
<polyline points="625.0,1258.0 628.0,1267.0 601.0,1327.0 601.0,1343.0 615.0,1356.0 794.0,1513.5" fill="none" stroke="#000" stroke-width="14.00" stroke-linecap="round" stroke-linejoin="round"/>
<line x1="625.8" y1="1257.7" x2="628.8" y2="1266.7" stroke="#fff" stroke-width="6.4" stroke-linecap="round"/>
<line x1="627.3" y1="1266.7" x2="600.3" y2="1326.7" stroke="#fff" stroke-width="6.4" stroke-linecap="round"/>
<line x1="600.2" y1="1327.0" x2="600.2" y2="1343.0" stroke="#fff" stroke-width="6.4" stroke-linecap="round"/>
<line x1="601.5" y1="1342.4" x2="615.5" y2="1355.4" stroke="#fff" stroke-width="6.4" stroke-linecap="round"/>
<line x1="615.5" y1="1355.4" x2="794.5" y2="1512.9" stroke="#fff" stroke-width="6.4" stroke-linecap="round"/>
<polygon points="784.0,1497.0 867.7,1498.6 841.8,1554.5 796.0,1530.0 786.0,1522.0" fill="#fff" stroke="#000" stroke-width="5.25" stroke-linejoin="round"/>
<ellipse cx="794.0" cy="1513.5" rx="9.5" ry="7.5" transform="rotate(-55.0 794.0 1513.5)" fill="#fff" stroke="#000" stroke-width="4.50"/>
<polyline points="788.0,1527.0 837.0,1569.0 879.0,1496.0 889.0,1502.0" fill="none" stroke="#000" stroke-width="14.00" stroke-linecap="round" stroke-linejoin="round"/>
<line x1="788.5" y1="1526.4" x2="837.5" y2="1568.4" stroke="#fff" stroke-width="7.2" stroke-linecap="round"/>
<line x1="836.3" y1="1568.6" x2="878.3" y2="1495.6" stroke="#fff" stroke-width="7.2" stroke-linecap="round"/>
<line x1="879.4" y1="1495.3" x2="889.4" y2="1501.3" stroke="#fff" stroke-width="7.2" stroke-linecap="round"/>
<ellipse cx="890.8" cy="1502.7" rx="14.5" ry="14.0" transform="rotate(-40.0 890.8 1502.7)" fill="#fff" stroke="#000" stroke-width="3.00"/><ellipse cx="893.3" cy="1505.2" rx="9.0" ry="10.5" transform="rotate(-35.0 893.3 1505.2)" fill="#fff" stroke="#000" stroke-width="4.00"/>
<polyline points="894.0,1507.0 916.0,1525.0" fill="none" stroke="#000" stroke-width="14.00" stroke-linecap="round" stroke-linejoin="round"/>
<line x1="894.5" y1="1506.4" x2="916.5" y2="1524.4" stroke="#fff" stroke-width="6.4" stroke-linecap="round"/>
<ellipse cx="916.0" cy="1525.0" rx="5.5" ry="7.0" transform="rotate(-50.0 916.0 1525.0)" fill="#fff" stroke="#000" stroke-width="3.75"/>
<polygon points="1481.0,266.0 1491.0,533.0 1514.0,528.0 1507.0,256.0" fill="#fff" stroke="#000" stroke-width="3.75"/>
<polygon points="1468.0,247.0 1494.0,240.0 1507.0,256.0 1480.0,264.0" fill="#fff" stroke="#000" stroke-width="3.25"/>
<ellipse cx="1488.0" cy="252.0" rx="3.5" ry="2.5" transform="rotate(-15.0 1488.0 252.0)" fill="none" stroke="#000" stroke-width="2.50"/>
<path d="M1501,402L1501,420" stroke="#000" stroke-width="5.00" stroke-linecap="round"/>
<circle cx="1500" cy="467" r="2.5" fill="#000"/>
<polyline points="1394.0,302.0 1440.0,324.0" fill="none" stroke="#000" stroke-width="10.50" stroke-linecap="round" stroke-linejoin="round"/><polyline points="1394.0,302.0 1440.0,324.0" fill="none" stroke="#fff" stroke-width="5" stroke-linecap="round" stroke-linejoin="round"/>
<ellipse cx="1440.0" cy="324.0" rx="3.5" ry="4.5" transform="rotate(-60.0 1440.0 324.0)" fill="#000"/>
<path d="M1591,291 C1593,283 1589,277 1584,278 C1576,279 1573,287 1575,297 L1577,305" fill="none" stroke="#000" stroke-width="4.50" stroke-linecap="round"/>
<path d="M1583,292 C1580,287 1582,283 1586,284" fill="none" stroke="#000" stroke-width="3.75"/>
<path d="M1575,304 L1597,302 L1599,377 L1578,378 Z" fill="#000"/>
<path d="M1579,308.0 L1593,307.0 L1594,313.5 C1590,317.0 1583,317.0 1579.5,315.0 Z" fill="#fff"/>
<path d="M1579,319.6 L1593,318.6 L1594,325.1 C1590,328.6 1583,328.6 1579.5,326.6 Z" fill="#fff"/>
<path d="M1579,331.2 L1593,330.2 L1594,336.7 C1590,340.2 1583,340.2 1579.5,338.2 Z" fill="#fff"/>
<path d="M1579,342.8 L1593,341.8 L1594,348.3 C1590,351.8 1583,351.8 1579.5,349.8 Z" fill="#fff"/>
<path d="M1579,354.4 L1593,353.4 L1594,359.9 C1590,363.4 1583,363.4 1579.5,361.4 Z" fill="#fff"/>
<path d="M1579,366.0 L1593,365.0 L1594,371.5 C1590,375.0 1583,375.0 1579.5,373.0 Z" fill="#fff"/>
<path d="M1597,376 L1597,400 C1597,410 1590,412 1586,410 C1582,407 1582,400 1584,396" fill="none" stroke="#000" stroke-width="5.50" stroke-linecap="round"/>
<polygon points="1622.0,491.0 1673.0,478.0 1674.0,466.0 1658.0,469.0 1649.0,465.0 1646.0,460.0 1656.0,455.0 1676.0,451.0 1684.0,452.0 1692.0,463.0 1693.0,468.0 1696.0,661.0 1624.0,679.0" fill="#fff" stroke="#000" stroke-width="3.50" stroke-linejoin="round"/>
<polygon points="1643.0,495.0 1674.0,491.0 1674.0,509.0 1645.0,513.0" fill="none" stroke="#000" stroke-width="3.25"/>
<polyline points="1632.0,552.0 1631.0,526.0 1658.0,521.0 1658.0,550.0" fill="none" stroke="#000" stroke-width="3.25"/>
<polyline points="1632.0,552.0 1643.0,558.0 1644.0,620.0" fill="none" stroke="#000" stroke-width="3.25"/>
<polyline points="1646.0,552.0 1658.0,549.0 1664.0,558.0 1674.0,563.0 1674.0,602.0" fill="none" stroke="#000" stroke-width="3.25"/>
<polygon points="1666.0,609.0 1687.0,609.0 1687.0,642.0 1666.0,642.0" fill="none" stroke="#000" stroke-width="3.25"/>
<ellipse cx="1676.0" cy="625.0" rx="4.0" ry="11.0" transform="rotate(0.0 1676.0 625.0)" fill="none" stroke="#000" stroke-width="3.00"/>
<polyline points="1645.0,630.0 1660.0,625.0 1654.0,640.0 1645.0,648.0 1660.0,650.0 1666.0,660.0" fill="none" stroke="#000" stroke-width="3.25"/>
<ellipse cx="1678.0" cy="534.0" rx="5.0" ry="4.5" transform="rotate(0.0 1678.0 534.0)" fill="none" stroke="#000" stroke-width="3.00"/>
<circle cx="1637" cy="509" r="2.2" fill="#000"/>
<circle cx="1686" cy="498" r="2.2" fill="#000"/>
<circle cx="1646" cy="665" r="2.2" fill="#000"/>
<circle cx="1688" cy="655" r="2.2" fill="#000"/>
<circle cx="1647" cy="656" r="2.2" fill="#000"/>
<polyline points="1739.0,516.0 1765.0,550.0" fill="none" stroke="#000" stroke-width="8.00" stroke-linecap="round" stroke-linejoin="round"/><polyline points="1739.0,516.0 1765.0,550.0" fill="none" stroke="#fff" stroke-width="3.5" stroke-linecap="round" stroke-linejoin="round"/>
<path d="M1740.5,524.5L1746.9,519.7" stroke="#000" stroke-width="2.50"/>
<path d="M1745.2,530.7L1751.5,525.8" stroke="#000" stroke-width="2.50"/>
<path d="M1749.9,536.8L1756.2,531.9" stroke="#000" stroke-width="2.50"/>
<path d="M1754.5,542.9L1760.9,538.1" stroke="#000" stroke-width="2.50"/>
<ellipse cx="1765.0" cy="550.0" rx="14.0" ry="11.0" transform="rotate(-35.0 1765.0 550.0)" fill="#fff" stroke="#000" stroke-width="3.25"/>
<ellipse cx="1766.0" cy="551.0" rx="12.0" ry="9.0" transform="rotate(-35.0 1766.0 551.0)" fill="none" stroke="#000" stroke-width="2.00"/>
<circle cx="1766" cy="551" r="2.2" fill="#000"/>
<polyline points="1815.0,485.0 1842.0,516.0" fill="none" stroke="#000" stroke-width="8.00" stroke-linecap="round" stroke-linejoin="round"/><polyline points="1815.0,485.0 1842.0,516.0" fill="none" stroke="#fff" stroke-width="3.5" stroke-linecap="round" stroke-linejoin="round"/>
<path d="M1816.8,493.2L1822.9,488.0" stroke="#000" stroke-width="2.50"/>
<path d="M1821.7,498.8L1827.7,493.5" stroke="#000" stroke-width="2.50"/>
<path d="M1826.6,504.4L1832.6,499.1" stroke="#000" stroke-width="2.50"/>
<path d="M1831.4,509.9L1837.5,504.7" stroke="#000" stroke-width="2.50"/>
<ellipse cx="1842.0" cy="516.0" rx="14.0" ry="11.0" transform="rotate(-35.0 1842.0 516.0)" fill="#fff" stroke="#000" stroke-width="3.25"/>
<ellipse cx="1843.0" cy="517.0" rx="12.0" ry="9.0" transform="rotate(-35.0 1843.0 517.0)" fill="none" stroke="#000" stroke-width="2.00"/>
<circle cx="1843" cy="517" r="2.2" fill="#000"/>
<polyline points="1662.0,701.0 1686.0,735.0" fill="none" stroke="#000" stroke-width="8.00" stroke-linecap="round" stroke-linejoin="round"/><polyline points="1662.0,701.0 1686.0,735.0" fill="none" stroke="#fff" stroke-width="3.5" stroke-linecap="round" stroke-linejoin="round"/>
<path d="M1663.1,709.4L1669.6,704.8" stroke="#000" stroke-width="2.50"/>
<path d="M1667.4,715.5L1673.9,710.9" stroke="#000" stroke-width="2.50"/>
<path d="M1671.7,721.7L1678.2,717.1" stroke="#000" stroke-width="2.50"/>
<path d="M1676.0,727.8L1682.5,723.2" stroke="#000" stroke-width="2.50"/>
<ellipse cx="1686.0" cy="735.0" rx="14.0" ry="11.0" transform="rotate(-35.0 1686.0 735.0)" fill="#fff" stroke="#000" stroke-width="3.25"/>
<ellipse cx="1687.0" cy="736.0" rx="12.0" ry="9.0" transform="rotate(-35.0 1687.0 736.0)" fill="none" stroke="#000" stroke-width="2.00"/>
<circle cx="1687" cy="736" r="2.2" fill="#000"/>
<polyline points="1748.0,669.0 1777.0,701.0" fill="none" stroke="#000" stroke-width="8.00" stroke-linecap="round" stroke-linejoin="round"/><polyline points="1748.0,669.0 1777.0,701.0" fill="none" stroke="#fff" stroke-width="3.5" stroke-linecap="round" stroke-linejoin="round"/>
<path d="M1750.3,677.4L1756.2,672.1" stroke="#000" stroke-width="2.50"/>
<path d="M1755.5,683.2L1761.4,677.8" stroke="#000" stroke-width="2.50"/>
<path d="M1760.7,689.0L1766.6,683.6" stroke="#000" stroke-width="2.50"/>
<path d="M1765.9,694.7L1771.8,689.4" stroke="#000" stroke-width="2.50"/>
<ellipse cx="1777.0" cy="701.0" rx="14.0" ry="11.0" transform="rotate(-35.0 1777.0 701.0)" fill="#fff" stroke="#000" stroke-width="3.25"/>
<ellipse cx="1778.0" cy="702.0" rx="12.0" ry="9.0" transform="rotate(-35.0 1778.0 702.0)" fill="none" stroke="#000" stroke-width="2.00"/>
<circle cx="1778" cy="702" r="2.2" fill="#000"/>
<polygon points="1571.1,871.7 1578.3,864.2 1584.6,864.2 1592.9,863.0 1593.3,855.1 1599.3,849.1 1605.6,848.3 1610.0,854.3 1610.8,864.6 1611.6,872.9 1615.6,881.3 1615.6,889.6 1607.6,890.4 1604.4,888.8 1598.5,897.1 1594.5,903.5 1591.0,904.3 1580.6,902.7 1580.6,896.7 1577.1,879.7 1571.9,875.7" fill="#fff" stroke="#000" stroke-width="4.00" stroke-linejoin="round"/><path d="M1578,880 L1583,900 L1587,902" fill="none" stroke="#000" stroke-width="5.00"/><path d="M1584,866 L1586,872 M1593,862 L1600,863 M1604,889 L1598,891" fill="none" stroke="#000" stroke-width="3.25"/><ellipse cx="1596.5" cy="879.6" rx="7.0" ry="7.6" transform="rotate(-20.0 1596.5 879.6)" fill="#fff" stroke="#000" stroke-width="3.75"/>
<polygon points="790.2,1354.0 797.9,1347.2 801.3,1350.2 807.2,1349.4 809.8,1345.5 808.5,1339.1 812.3,1333.2 818.3,1331.5 821.7,1332.8 824.7,1339.6 825.1,1356.6 831.1,1358.3 834.9,1365.1 833.6,1368.9 829.8,1371.5 822.6,1372.3 818.7,1376.6 818.3,1383.8 814.0,1386.4 805.5,1387.7 802.1,1384.7 802.6,1373.6 800.4,1367.7 792.8,1362.6 790.2,1358.3" fill="#fff" stroke="#000" stroke-width="4.00" stroke-linejoin="round"/><path d="M803,1374 L806,1386 M791,1356 L796,1362 M808,1342 L811,1347" fill="none" stroke="#000" stroke-width="4.25"/><ellipse cx="814.5" cy="1361.7" rx="7.0" ry="7.7" transform="rotate(-20.0 814.5 1361.7)" fill="#fff" stroke="#000" stroke-width="3.75"/><path d="M814,1370 C817,1369 820,1369 822,1370" fill="none" stroke="#000" stroke-width="3.00"/>
<ellipse cx="1283.0" cy="1022.0" rx="16.0" ry="10.0" transform="rotate(-18.0 1283.0 1022.0)" fill="#fff" stroke="#000" stroke-width="3.00"/>
<ellipse cx="1285.0" cy="1022.0" rx="12.0" ry="6.5" transform="rotate(-18.0 1285.0 1022.0)" fill="none" stroke="#000" stroke-width="1.75"/>
<ellipse cx="1470.0" cy="962.0" rx="16.0" ry="10.0" transform="rotate(-18.0 1470.0 962.0)" fill="#fff" stroke="#000" stroke-width="3.00"/>
<ellipse cx="1468.0" cy="962.0" rx="12.0" ry="6.5" transform="rotate(-18.0 1468.0 962.0)" fill="none" stroke="#000" stroke-width="1.75"/>
<polygon points="1298.4,1002.7 1450.4,953.7 1459.6,982.3 1307.6,1031.3" fill="#fff" stroke="#000" stroke-width="3.25" stroke-linejoin="round"/>
<path d="M1298.4,1002.7Q1311.6,1014.2 1307.6,1031.3M1305.3,1000.5Q1318.5,1012.0 1314.5,1029.0M1312.2,998.3Q1325.4,1009.8 1321.4,1026.8M1319.1,996.0Q1332.3,1007.6 1328.3,1024.6M1326.0,993.8Q1339.2,1005.3 1335.2,1022.4M1332.9,991.6Q1346.1,1003.1 1342.1,1020.1M1339.9,989.4Q1353.0,1000.9 1349.1,1017.9M1346.8,987.1Q1359.9,998.6 1356.0,1015.7M1353.7,984.9Q1366.8,996.4 1362.9,1013.5M1360.6,982.7Q1373.7,994.2 1369.8,1011.2M1367.5,980.5Q1380.7,992.0 1376.7,1009.0M1374.4,978.2Q1387.6,989.7 1383.6,1006.8M1381.3,976.0Q1394.5,987.5 1390.5,1004.5M1388.2,973.8Q1401.4,985.3 1397.4,1002.3M1395.1,971.5Q1408.3,983.1 1404.3,1000.1M1402.0,969.3Q1415.2,980.8 1411.2,997.9M1408.9,967.1Q1422.1,978.6 1418.1,995.6M1415.9,964.9Q1429.0,976.4 1425.1,993.4M1422.8,962.6Q1435.9,974.1 1432.0,991.2M1429.7,960.4Q1442.8,971.9 1438.9,989.0M1436.6,958.2Q1449.7,969.7 1445.8,986.7M1443.5,956.0Q1456.7,967.5 1452.7,984.5M1450.4,953.7Q1463.6,965.2 1459.6,982.3" fill="none" stroke="#000" stroke-width="3.38"/>
<ellipse cx="1300.0" cy="1018.0" rx="5.0" ry="11.0" transform="rotate(-18.0 1300.0 1018.0)" fill="#000"/>
<path d="M1124.9,1180.9 L1278.1,1123.7 L1286.1,1123.7 L1294.1,1138.6 L1134,1195.8 C1125,1198 1119,1200 1117,1205 C1114,1214 1104,1221 1092,1221 C1083,1221 1079,1218 1081,1212 C1084,1203 1092,1199 1104,1196 C1112,1194 1118,1186 1124.9,1180.9 Z" fill="#fff" stroke="#000" stroke-width="4.25" stroke-linejoin="round"/>
<path d="M1092,1217 C1098,1209 1105,1205 1112,1203" fill="none" stroke="#000" stroke-width="3.25"/>
<path d="M1270,1129 L1274,1141" fill="none" stroke="#000" stroke-width="3.25"/>
<path d="M1136,1182 L1139,1192 M1142,1181 L1145,1190" fill="none" stroke="#000" stroke-width="3.00"/>
<ellipse cx="1161.5" cy="1174" rx="2.6" ry="2.2" fill="#000"/>
<ellipse cx="1170.6" cy="1172.9" rx="2.2" ry="1.8" fill="#000"/>
<ellipse cx="1183.2" cy="1167.2" rx="3.4" ry="2.8" fill="#000"/>
<ellipse cx="1199.2" cy="1161.5" rx="3.4" ry="2.8" fill="#000"/>
<ellipse cx="1222" cy="1153.4" rx="3.4" ry="2.8" fill="#000"/>
<ellipse cx="1259.8" cy="1139.2" rx="4.3" ry="3.6" fill="#000"/>
<path d="M854.6,1446 L964.7,1356.9 L985.8,1347.2 L1107.2,1301.8 C1113,1298 1115,1292 1117,1283 C1118,1278 1121,1276 1125,1276 L1154.2,1267.8 C1159,1267 1162,1269 1163.5,1274 L1165.6,1280.8 L1588.1,1119.8 C1592,1118 1595,1117.3 1598,1117.3 C1604,1117.3 1609,1119 1612,1123 C1615,1127 1617,1131 1618.5,1136 L1627.7,1159.5 C1628,1166 1627,1170 1624,1174 C1621,1177 1616,1179.5 1609.2,1179.3 C1605,1178 1602,1174 1600.5,1166.9 L1590.6,1166.9 L1586.9,1155.7 L1583.1,1147 L1579.4,1148.3 L1578.2,1159.5 L1573.2,1164.4 L1564.6,1161.9 L1560.8,1166.9 L1563.3,1175.6 L1555.9,1178 L1548.5,1171.8 L1542.3,1174.3 L1543.5,1181.8 L1532.4,1181.8 L1528.6,1175.6 L1524.9,1179.3 L1523.7,1184.2 L1506.3,1184.2 L1502.6,1179.3 L1497.7,1181.8 L1498.9,1189.2 L1501.4,1199.1 L1494,1197.9 L1481.6,1189.2 L1472.9,1190.4 L974.4,1379.6 L864.3,1467 C858,1470 852,1467 851,1460 C850,1454 851,1449 854.6,1446 Z" fill="#fff" stroke="#000" stroke-width="4.25" stroke-linejoin="round"/>
<polyline points="917.0,1412.0 971.0,1369.0 990.0,1362.0 1436.0,1194.0" fill="none" stroke="#000" stroke-width="11.50" stroke-linecap="round" stroke-linejoin="round"/><polyline points="917.0,1412.0 971.0,1369.0 990.0,1362.0 1436.0,1194.0" fill="none" stroke="#fff" stroke-width="5.9" stroke-linecap="round" stroke-linejoin="round"/>
<path d="M990,1356 L1165,1291 M1168,1285 L1592,1127" fill="none" stroke="#000" stroke-width="2.75"/>
<path d="M985,1375 L1462,1197" fill="none" stroke="#000" stroke-width="2.25"/>
<circle cx="865.9" cy="1455.7" r="4.5" fill="#000"/>
<ellipse cx="1615.4" cy="1167.5" rx="6" ry="5" fill="#000"/>
<circle cx="1127" cy="1287" r="2.5" fill="#000"/>
<ellipse cx="1148" cy="1280" rx="5" ry="2.5" transform="rotate(-20 1148 1280)" fill="#000"/><g fill="none" stroke="#000" stroke-width="3.25" stroke-linecap="round" stroke-linejoin="round">
<polyline points="1498.0,195.0 1493.0,240.0"/>
<polyline points="1366.0,257.0 1392.0,298.0"/>
<polyline points="1635.0,312.0 1599.0,337.0"/>
<polyline points="1742.0,428.0 1692.0,463.0"/>
<polyline points="1214.0,415.0 1168.0,449.0"/>
<polyline points="902.0,417.0 956.0,388.0"/>
<polyline points="1773.0,556.0 1838.0,579.0 1849.0,529.0"/>
<polyline points="1075.0,683.0 1140.0,640.0"/>
<polyline points="1692.0,743.0 1765.0,758.0 1773.0,714.0"/>
<polyline points="1558.0,819.0 1598.0,850.0"/>
<polyline points="396.0,851.0 340.0,899.0"/>
<polyline points="1405.0,890.0 1462.0,872.0"/>
<polyline points="431.0,1004.0 398.0,1030.0"/>
<polyline points="605.0,1011.0 559.0,1054.0"/>
<polyline points="2023.0,992.0 1983.0,1036.0"/>
<polyline points="1426.0,1035.0 1419.0,994.0"/>
<polyline points="1151.0,1119.0 1194.0,1155.0"/>
<polyline points="2034.0,1181.0 1993.0,1216.0"/>
<polyline points="857.0,1280.0 819.0,1332.0"/>
<polyline points="1309.0,1323.0 1265.0,1275.0"/>
<polyline points="1907.0,1361.0 1965.0,1365.0"/>
<polyline points="639.0,1455.0 667.0,1418.0"/>
<polyline points="1183.0,1535.0 1136.0,1567.0"/>
<polyline points="1196.0,1688.0 1159.0,1712.0"/>
<polyline points="1348.0,1735.0 1299.0,1767.0"/>
</g><g font-family="Liberation Sans" font-weight="bold" fill="#000" stroke-width="1.1" stroke="#000" stroke-linejoin="round">
<text x="0" y="0" font-size="67.76" transform="translate(1482.00 187.00) scale(1.0018 1)">9</text>
<text x="0" y="0" font-size="73.47" transform="translate(1318.00 246.00) scale(0.9392 1)">17</text>
<text x="0" y="0" font-size="70.59" transform="translate(1636.00 331.00) scale(0.9781 1)">18</text>
<text x="0" y="0" font-size="69.15" transform="translate(1740.00 427.00) scale(0.9844 1)">12</text>
<text x="0" y="0" font-size="69.21" transform="translate(1214.00 405.00) scale(1.0042 1)">253</text>
<text x="0" y="0" font-size="69.21" transform="translate(777.00 449.00) scale(1.0135 1)">255</text>
<text x="0" y="0" font-size="72.00" transform="translate(1829.00 642.00) scale(0.8714 1)">11</text>
<text x="0" y="0" font-size="70.59" transform="translate(944.00 719.00) scale(0.9845 1)">252</text>
<text x="0" y="0" font-size="73.47" transform="translate(1740.00 826.00) scale(0.8540 1)">11</text>
<text x="0" y="0" font-size="70.56" transform="translate(1483.00 811.00) scale(0.9660 1)">22</text>
<text x="0" y="0" font-size="70.59" transform="translate(406.00 854.00) scale(0.9938 1)">254</text>
<text x="0" y="0" font-size="70.59" transform="translate(1286.00 918.00) scale(0.9409 1)">302</text>
<text x="0" y="0" font-size="70.59" transform="translate(438.00 993.00) scale(0.9934 1)">253</text>
<text x="0" y="0" font-size="72.00" transform="translate(616.00 1011.00) scale(0.9053 1)">251</text>
<text x="0" y="0" font-size="70.59" transform="translate(2034.00 1004.00) scale(0.9934 1)">252</text>
<text x="0" y="0" font-size="67.76" transform="translate(1394.00 1092.00) scale(0.9897 1)">19</text>
<text x="0" y="0" font-size="67.76" transform="translate(1067.00 1121.00) scale(0.9917 1)">23</text>
<text x="0" y="0" font-size="69.21" transform="translate(2036.00 1177.00) scale(1.0042 1)">253</text>
<text x="0" y="0" font-size="72.00" transform="translate(862.00 1275.00) scale(0.9733 1)">22</text>
<text x="0" y="0" font-size="73.41" transform="translate(1282.00 1384.00) scale(0.9156 1)">20</text>
<text x="0" y="0" font-size="67.76" transform="translate(1781.00 1378.00) scale(1.0259 1)">255</text>
<text x="0" y="0" font-size="70.59" transform="translate(534.00 1518.00) scale(0.8980 1)">301</text>
<text x="0" y="0" font-size="72.00" transform="translate(1190.00 1546.00) scale(0.8966 1)">251</text>
<text x="0" y="0" font-size="70.59" transform="translate(1200.00 1685.00) scale(0.9845 1)">253</text>
<text x="0" y="0" font-size="70.59" transform="translate(1359.00 1747.00) scale(0.9677 1)">254</text>
</g></svg></body></html>
